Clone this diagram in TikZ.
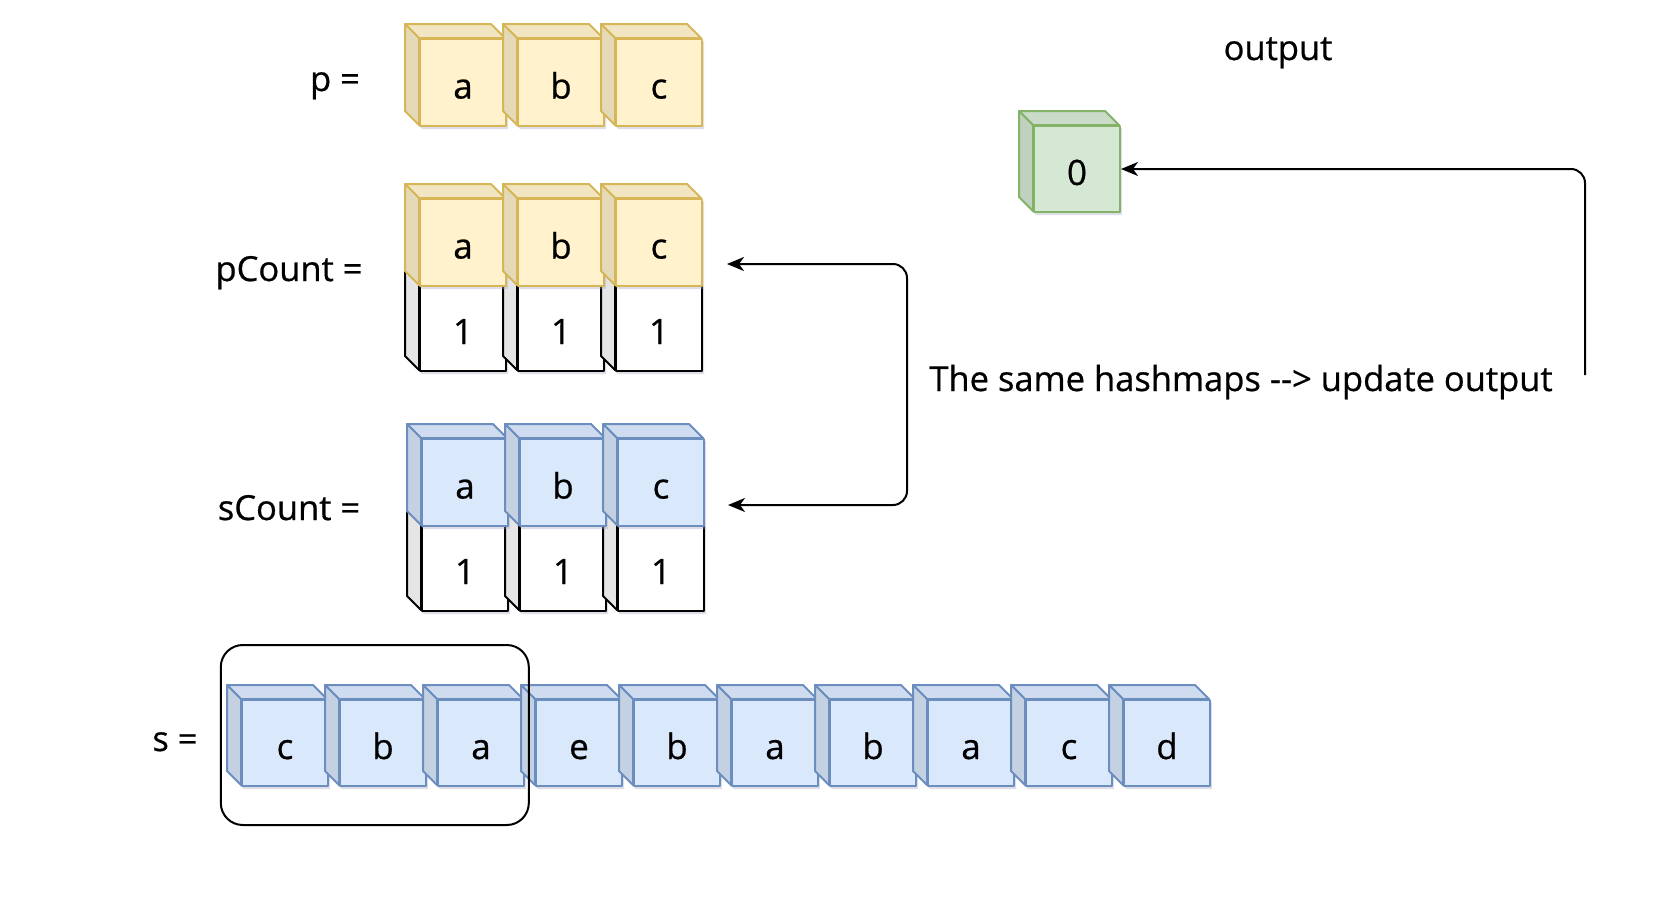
\documentclass[tikz,border=0pt]{standalone}
\usepackage{fontspec}
\setmainfont{Open Sans}[FakeBold=0.6]
\usetikzlibrary{arrows.meta,shadows,calc}
\definecolor{ylwF}{HTML}{FFF2CC}
\definecolor{ylwS}{HTML}{D6B656}
\definecolor{bluF}{HTML}{DAE8FC}
\definecolor{bluS}{HTML}{6C8EBF}
\definecolor{grnF}{HTML}{D5E8D4}
\definecolor{grnS}{HTML}{82B366}
\definecolor{shd}{HTML}{9EA3BD}
\tikzset{
  cubeline/.style={line width=2pt, line join=round},
  lbl/.style={font=\fontsize{34.5}{40}\selectfont, inner sep=0pt, anchor=base},
  cubetext/.style={font=\fontsize{35}{40}\selectfont, text height=32pt, text depth=0pt},
  arr/.style={line width=2pt, rounded corners=14pt},
  cshadow/.style={drop shadow={shadow xshift=3pt, shadow yshift=-4pt, opacity=0.35, fill=shd}},
}
\newcommand\mycube[8]{%
  \path[cshadow, fill=#6] (#2,#3) -- (#2+#4-14,#3) -- (#2+#4,#3+14) -- (#2+#4,#3+#5) -- (#2+14,#3+#5) -- (#2,#3+#5-14) -- cycle;
  \filldraw[cubeline, fill=#6!95!black, draw=#7] (#2,#3) -- (#2+#4-14,#3) -- (#2+#4,#3+14) -- (#2+14,#3+14) -- cycle;
  \filldraw[cubeline, fill=#6!90!black, draw=#7] (#2,#3) -- (#2+14,#3+14) -- (#2+14,#3+#5) -- (#2,#3+#5-14) -- cycle;
  \node[cubeline, cubetext, draw=#7, fill=#6, inner sep=0pt, minimum width=#4pt-14pt, minimum height=#5pt-14pt, anchor=north west] (#1) at (#2+14,#3+14) {#8};
}
\begin{document}
\begin{tikzpicture}[x=1pt, y=-1pt, >={Stealth[length=17pt,width=14pt,inset=5pt]}]
\useasboundingbox (0,0) rectangle (1680,900);
\fill[white] (0,0) rectangle (1680,900);

% p row
\mycube{p1}{405}{24}{100}{101}{ylwF}{ylwS}{a}
\mycube{p2}{503}{24}{100}{101}{ylwF}{ylwS}{b}
\mycube{p3}{601}{24}{100}{101}{ylwF}{ylwS}{c}

% pCount
\mycube{pv1}{405}{270}{100}{100}{white}{black}{1}
\mycube{pv2}{503}{270}{100}{100}{white}{black}{1}
\mycube{pv3}{601}{270}{100}{100}{white}{black}{1}
\mycube{pk1}{405}{184}{100}{101}{ylwF}{ylwS}{a}
\mycube{pk2}{503}{184}{100}{101}{ylwF}{ylwS}{b}
\mycube{pk3}{601}{184}{100}{101}{ylwF}{ylwS}{c}

% sCount
\mycube{sv1}{407}{510}{100}{100}{white}{black}{1}
\mycube{sv2}{505}{510}{100}{100}{white}{black}{1}
\mycube{sv3}{603}{510}{100}{100}{white}{black}{1}
\mycube{sk1}{407}{424}{100}{101}{bluF}{bluS}{a}
\mycube{sk2}{505}{424}{100}{101}{bluF}{bluS}{b}
\mycube{sk3}{603}{424}{100}{101}{bluF}{bluS}{c}

% s row
\mycube{s1}{227}{685}{100}{100}{bluF}{bluS}{c}
\mycube{s2}{325}{685}{100}{100}{bluF}{bluS}{b}
\mycube{s3}{423}{685}{100}{100}{bluF}{bluS}{a}
\mycube{s4}{521}{685}{100}{100}{bluF}{bluS}{e}
\mycube{s5}{619}{685}{100}{100}{bluF}{bluS}{b}
\mycube{s6}{717}{685}{100}{100}{bluF}{bluS}{a}
\mycube{s7}{815}{685}{100}{100}{bluF}{bluS}{b}
\mycube{s8}{913}{685}{100}{100}{bluF}{bluS}{a}
\mycube{s9}{1011}{685}{100}{100}{bluF}{bluS}{c}
\mycube{s10}{1109}{685}{100}{100}{bluF}{bluS}{d}

% output cube
\mycube{out}{1019}{111}{100}{100}{grnF}{grnS}{0}

% window
\node[draw, line width=2pt, rounded corners=22pt, minimum width=308pt, minimum height=180pt, inner sep=0pt] (win) at (374.8,735) {};

% labels
\node[lbl] (plbl) at (335,91) {p =};
\node[lbl] (pclbl) at (289,281) {pCount =};
\node[lbl] (sclbl) at (289,520) {sCount =};
\node[lbl] (slbl) at (175,751) {s =};
\node[lbl] (outlbl) at (1278,60) {output};
\node[lbl] (msg) at (1241,391) {The same hashmaps -{}-> update output};

% connectors
\coordinate (pa) at (727,264);
\coordinate (sa) at (728,505);
\draw[arr, <->] (pa) -- ++(180,0) |- (sa);
\coordinate (src) at (1585,375);
\draw[arr, ->] (src) |- (out.east);
\end{tikzpicture}
\end{document}
